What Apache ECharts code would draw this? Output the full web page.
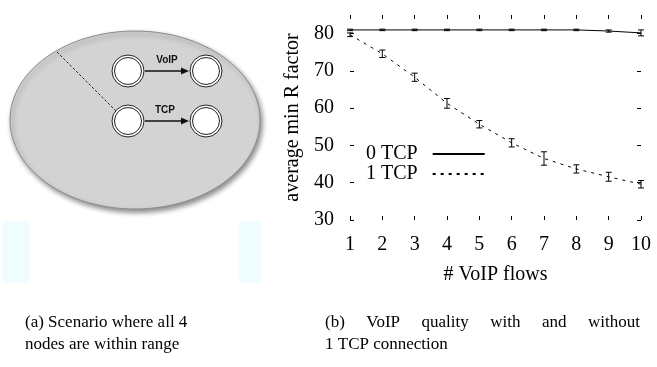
<!DOCTYPE html>
<html>
<head>
<meta charset="utf-8">
<script src="https://cdn.jsdelivr.net/npm/echarts@6/dist/echarts.min.js"></script>
<style>
html,body{margin:0;padding:0;background:#fff;}
#chart{width:657px;height:367px;}
</style>
</head>
<body>
<div id="chart"></div>
<script>
// ---- data ----
var flows = [1, 2, 3, 4, 5, 6, 7, 8, 9, 10];
var tcp0 = [81, 81, 81, 81, 81, 81, 81, 81, 80.7, 80.2];
var tcp0Err = [0.2, 0.2, 0.2, 0.2, 0.2, 0.2, 0.2, 0.2, 0.3, 0.8];
var tcp1 = [79.7, 74.6, 68.3, 61.3, 55.7, 50.7, 46.5, 43.7, 41.6, 39.6];
var tcp1Err = [0.5, 1.0, 1.1, 1.3, 1.0, 1.1, 1.8, 1.1, 1.2, 1.0];
var yTicks = [30, 40, 50, 60, 70, 80];
var seriesNames = ['0 TCP', '1 TCP'];
var xName = '# VoIP flows';
var yName = 'average min R factor';
var captionA = ['(a) Scenario where all 4', 'nodes are within range'];
var captionB1 = ['(b)', 'VoIP', 'quality', 'with', 'and', 'without'];
var captionB2 = '1 TCP connection';
var diagramLabels = ['VoIP', 'TCP'];

var SERIF = '"Liberation Serif", "Times New Roman", serif';
var chart = echarts.init(document.getElementById('chart'), null, {renderer: 'canvas'});

function pairs(ys) { return flows.map(function (x, i) { return [x, ys[i]]; }); }
function errData(ys, es) { return flows.map(function (x, i) { return [x, ys[i] - es[i], ys[i] + es[i]]; }); }

function renderErr(params, api) {
  var x = api.value(0);
  var lo = api.coord([x, api.value(1)]);
  var hi = api.coord([x, api.value(2)]);
  var w = 3;
  var st = {stroke: '#000', lineWidth: 1};
  return {
    type: 'group',
    children: [
      {type: 'line', shape: {x1: lo[0], y1: lo[1], x2: hi[0], y2: hi[1]}, style: st},
      {type: 'line', shape: {x1: lo[0] - w, y1: lo[1], x2: lo[0] + w, y2: lo[1]}, style: st},
      {type: 'line', shape: {x1: hi[0] - w, y1: hi[1], x2: hi[0] + w, y2: hi[1]}, style: st}
    ]
  };
}

// caption (b) first line, justified between left and right
var bLeft = 325, bRight = 640, bSize = 17;
var ctx = document.createElement('canvas').getContext('2d');
ctx.font = bSize + 'px ' + SERIF;
var widths = captionB1.map(function (w) { return ctx.measureText(w).width; });
var total = widths.reduce(function (a, b) { return a + b; }, 0);
var gap = (bRight - bLeft - total) / (captionB1.length - 1);
var bWords = [];
var cx = bLeft;
captionB1.forEach(function (w, i) {
  bWords.push({type: 'text', x: cx, y: 323, style: {text: w, font: bSize + 'px ' + SERIF, fill: '#000', textVerticalAlign: 'middle'}});
  cx += widths[i] + gap;
});

function node(cx, cy) {
  return [
    {type: 'circle', shape: {cx: cx, cy: cy, r: 16}, style: {fill: '#fff', stroke: '#222', lineWidth: 1}, z: 3},
    {type: 'circle', shape: {cx: cx, cy: cy, r: 13.5}, style: {fill: '#fff', stroke: '#222', lineWidth: 1}, z: 3}
  ];
}
function arrow(x1, x2, y) {
  return [
    {type: 'line', shape: {x1: x1, y1: y, x2: x2 - 6, y2: y}, style: {stroke: '#111', lineWidth: 1.3}, z: 3},
    {type: 'polygon', shape: {points: [[x2, y], [x2 - 8, y - 3.5], [x2 - 8, y + 3.5]]}, style: {fill: '#111'}, z: 3}
  ];
}

var graphics = [
  {type: 'rect', shape: {x: 2, y: 221, width: 28, height: 62}, style: {fill: '#effdff'}, z: 1},
  {type: 'rect', shape: {x: 239, y: 221, width: 22, height: 62}, style: {fill: '#effdff'}, z: 1},
  {type: 'ellipse', shape: {cx: 135, cy: 120, rx: 125, ry: 89},
    style: {fill: '#d3d3d3', stroke: '#8c8c8c', lineWidth: 1, shadowBlur: 5, shadowOffsetX: 2, shadowOffsetY: 3, shadowColor: 'rgba(0,0,0,0.45)'}, z: 2},
  {type: 'line', shape: {x1: 57, y1: 52, x2: 116, y2: 111}, style: {stroke: '#222', lineWidth: 1, lineDash: [2.5, 2]}, z: 3},
  {type: 'text', x: 167, y: 60, style: {text: diagramLabels[0], font: 'bold 10px "Liberation Sans", Arial, sans-serif', fill: '#111', textAlign: 'center', textVerticalAlign: 'middle'}, z: 3},
  {type: 'text', x: 165, y: 110, style: {text: diagramLabels[1], font: 'bold 10px "Liberation Sans", Arial, sans-serif', fill: '#111', textAlign: 'center', textVerticalAlign: 'middle'}, z: 3},
  {type: 'text', x: 25, y: 323, style: {text: captionA[0], font: bSize + 'px ' + SERIF, fill: '#000', textVerticalAlign: 'middle'}},
  {type: 'text', x: 25, y: 345, style: {text: captionA[1], font: bSize + 'px ' + SERIF, fill: '#000', textVerticalAlign: 'middle'}},
  {type: 'text', x: bLeft, y: 345, style: {text: captionB2, font: bSize + 'px ' + SERIF, fill: '#000', textVerticalAlign: 'middle'}}
].concat(node(128, 71), node(206, 71), node(128, 121), node(206, 121),
  arrow(145, 189, 71), arrow(145, 189, 121), bWords);

var axisFont = {fontFamily: SERIF, fontSize: 20, color: '#000'};
var tickStyle = {show: true, inside: true, length: 4, lineStyle: {color: '#000', width: 1}};

var option = {
  animation: false,
  backgroundColor: '#fff',
  grid: {left: 350, right: 16, top: 15, bottom: 147, containLabel: false},
  legend: {
    data: seriesNames,
    orient: 'vertical',
    align: 'right',
    left: 366,
    top: 144,
    padding: 0,
    itemWidth: 52,
    itemHeight: 12,
    itemGap: 0,
    itemStyle: {opacity: 0, borderWidth: 0},
    textStyle: {fontFamily: SERIF, fontSize: 20, color: '#000', lineHeight: 19, padding: [0, 10, 0, 0]}
  },
  xAxis: [
    {type: 'value', min: 1, max: 10, interval: 1, position: 'bottom',
      name: xName, nameLocation: 'middle', nameGap: 45, nameTextStyle: axisFont,
      axisLine: {show: false}, axisTick: tickStyle, splitLine: {show: false},
      axisLabel: Object.assign({margin: 15}, axisFont)},
    {type: 'value', min: 1, max: 10, interval: 1, position: 'top',
      axisLine: {show: false}, axisTick: tickStyle, splitLine: {show: false}, axisLabel: {show: false}}
  ],
  yAxis: [
    {type: 'value', min: 30, max: 85, position: 'left',
      name: yName, nameLocation: 'middle', nameGap: 47, nameRotate: 90, nameTextStyle: axisFont,
      axisLine: {show: false}, splitLine: {show: false},
      axisTick: Object.assign({customValues: yTicks}, tickStyle),
      axisLabel: Object.assign({margin: 16, customValues: yTicks}, axisFont)},
    {type: 'value', min: 30, max: 85, position: 'right',
      axisLine: {show: false}, splitLine: {show: false},
      axisTick: Object.assign({customValues: yTicks}, tickStyle),
      axisLabel: {show: false}}
  ],
  series: [
    {name: seriesNames[0], type: 'line', data: pairs(tcp0), symbol: 'none',
      lineStyle: {color: '#000', width: 1}, itemStyle: {color: '#000'}, z: 5},
    {name: seriesNames[1], type: 'line', data: pairs(tcp1), symbol: 'none',
      lineStyle: {color: '#000', width: 1, type: [3, 5]}, itemStyle: {color: '#000'}, z: 5},
    {name: 'err0', type: 'custom', data: errData(tcp0, tcp0Err), renderItem: renderErr, z: 6},
    {name: 'err1', type: 'custom', data: errData(tcp1, tcp1Err), renderItem: renderErr, z: 6}
  ],
  graphic: {elements: graphics}
};
chart.setOption(option);
</script>
</body>
</html>
